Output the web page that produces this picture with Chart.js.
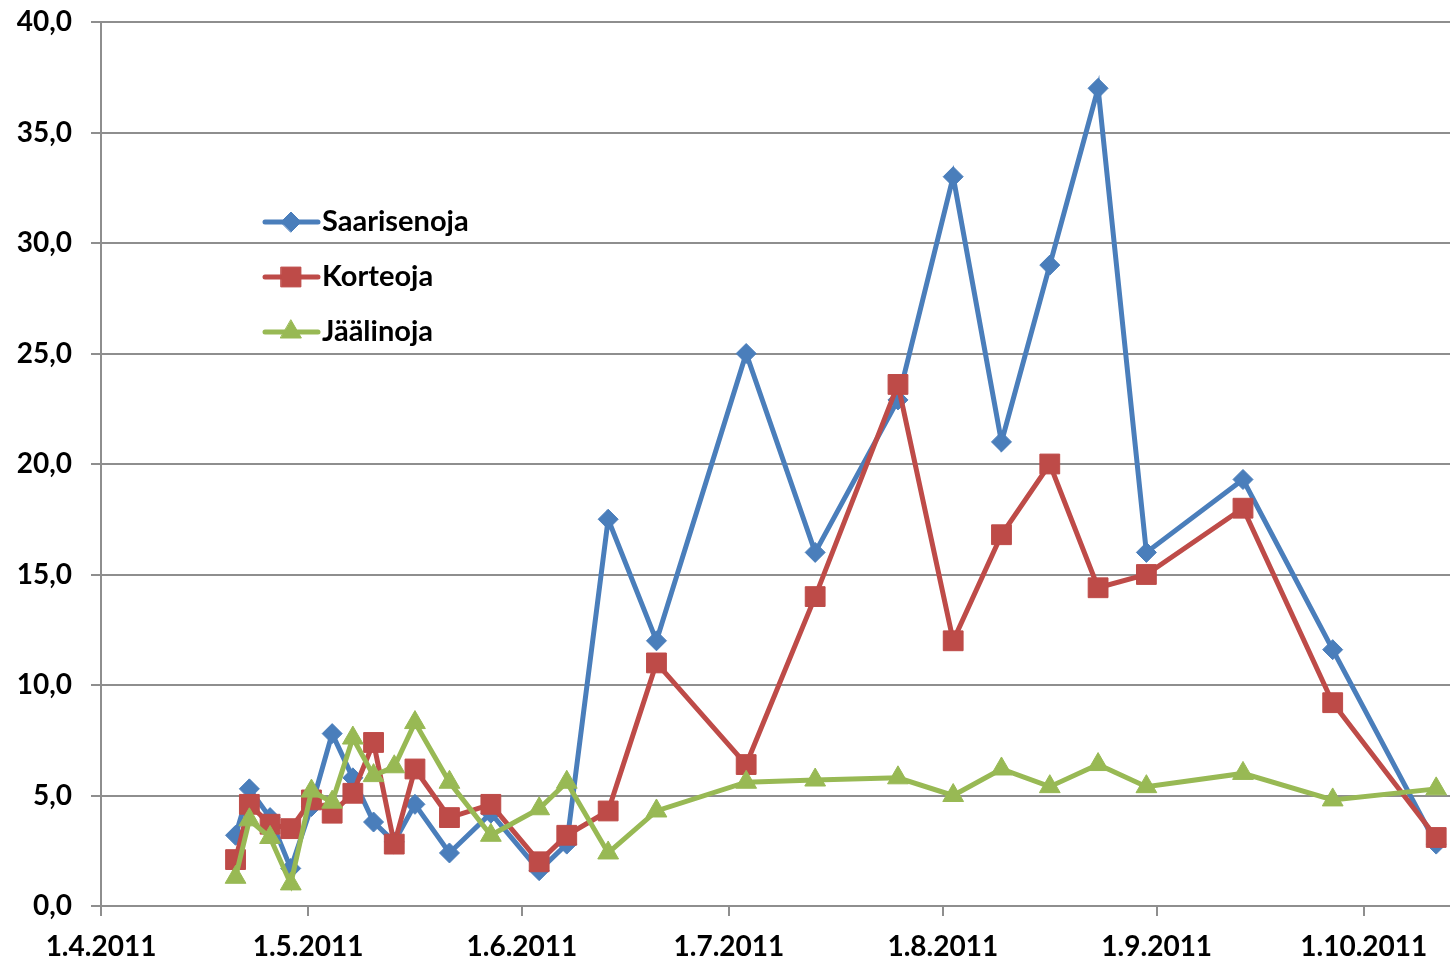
<!DOCTYPE html>
<html>
<head>
<meta charset="utf-8">
<script src="https://cdn.jsdelivr.net/npm/chart.js@4/dist/chart.umd.min.js"></script>
<style>
  html, body { margin: 0; padding: 0; background: #fff; }
  #wrap { width: 1450px; height: 961px; }
</style>
</head>
<body>
<div id="wrap"><canvas id="chart" width="1450" height="961"></canvas></div>
<script>
// sample dates (plotted in the middle of the day, like Excel)
const dates = [
  "2011-04-20", "2011-04-22", "2011-04-25", "2011-04-28", "2011-05-01", "2011-05-04",
  "2011-05-07", "2011-05-10", "2011-05-13", "2011-05-16", "2011-05-21", "2011-05-27",
  "2011-06-03", "2011-06-07", "2011-06-13", "2011-06-20", "2011-07-03", "2011-07-13",
  "2011-07-25", "2011-08-02", "2011-08-09", "2011-08-16", "2011-08-23", "2011-08-30",
  "2011-09-13", "2011-09-26", "2011-10-11"
];

const saarisenoja = [3.2, 5.3, 4.0, 1.7, 4.5, 7.8, 5.8, 3.8, 2.9, 4.6, 2.4, 4.2,
  1.6, 2.8, 17.5, 12.0, 25.0, 16.0, 22.9, 33.0, 21.0, 29.0, 37.0, 16.0, 19.3, 11.6, 2.8];
const korteoja = [2.1, 4.6, 3.7, 3.5, 4.8, 4.2, 5.1, 7.4, 2.8, 6.2, 4.0, 4.6,
  2.0, 3.2, 4.3, 11.0, 6.4, 14.0, 23.6, 12.0, 16.8, 20.0, 14.4, 15.0, 18.0, 9.2, 3.1];
const jaalinoja = [1.3, 3.9, 3.1, 1.0, 5.2, 4.7, 7.6, 5.9, 6.3, 8.3, 5.6, 3.2,
  4.4, 5.6, 2.4, 4.3, 5.6, 5.7, 5.8, 5.0, 6.2, 5.4, 6.4, 5.4, 6.0, 4.8, 5.3];

const tickDates = ["2011-04-01", "2011-05-01", "2011-06-01", "2011-07-01",
  "2011-08-01", "2011-09-01", "2011-10-01"];
const axisStart = "2011-04-01";
const axisEnd = "2011-10-13";

// day number from axis start
function dayNo(s) {
  const p = s.split("-").map(Number);
  const q = axisStart.split("-").map(Number);
  return (Date.UTC(p[0], p[1] - 1, p[2]) - Date.UTC(q[0], q[1] - 1, q[2])) / 86400000;
}
function fmtDate(d) {
  const p = d.split("-").map(Number);
  return p[2] + "." + p[1] + "." + p[0];
}
function pts(vals) {
  return vals.map((v, i) => ({ x: dayNo(dates[i]) + 0.5, y: v }));
}

const FONT = "Lato, 'Open Sans', sans-serif";
const GRID = "#8e8e8e";

const series = [
  { label: "Saarisenoja", vals: saarisenoja, color: "#4a7ebb", style: "rectRot", r: 10, order: 3 },
  { label: "Korteoja", vals: korteoja, color: "#be4b48", style: "rect", r: 14, order: 2 },
  { label: "Jäälinoja", vals: jaalinoja, color: "#98b954", style: "triangle", r: 12, order: 1 }
];

// legend drawn inside the plot, like the original
const innerLegend = {
  id: "innerLegend",
  afterDraw(c) {
    const ctx = c.ctx;
    const a = c.chartArea;
    c.data.datasets.forEach((ds, i) => {
      const y = a.top + 200 + i * 55;
      const x0 = a.left + 164;
      ctx.save();
      ctx.strokeStyle = ds.borderColor;
      ctx.lineWidth = 5;
      ctx.lineCap = "round";
      ctx.beginPath();
      ctx.moveTo(x0, y);
      ctx.lineTo(x0 + 53, y);
      ctx.stroke();
      ctx.fillStyle = ds.borderColor;
      ctx.strokeStyle = ds.borderColor;
      ctx.lineWidth = 1;
      Chart.helpers.drawPoint(ctx, { pointStyle: ds.pointStyle, radius: ds.pointRadius, rotation: 0, borderWidth: 1 }, x0 + 26, y);
      ctx.fillStyle = "#000";
      ctx.font = "bold 29px " + FONT;
      ctx.textBaseline = "middle";
      ctx.textAlign = "left";
      ctx.fillText(ds.label, x0 + 57, y);
      ctx.restore();
    });
  }
};

new Chart(document.getElementById("chart"), {
  type: "line",
  data: {
    datasets: series.map(s => ({
      label: s.label,
      data: pts(s.vals),
      borderColor: s.color,
      backgroundColor: s.color,
      borderWidth: 5,
      pointStyle: s.style,
      pointRadius: s.r,
      pointHoverRadius: s.r,
      pointBackgroundColor: s.color,
      pointBorderColor: s.color,
      pointBorderWidth: 1,
      tension: 0,
      order: s.order,
      clip: false
    }))
  },
  options: {
    responsive: false,
    animation: false,
    events: [],
    layout: { autoPadding: false, padding: { top: 22, right: 0, left: 0, bottom: 0 } },
    plugins: { legend: { display: false }, tooltip: { enabled: false } },
    scales: {
      x: {
        type: "linear",
        min: 0,
        max: dayNo(axisEnd) + 0.5,
        afterBuildTicks: ax => { ax.ticks = tickDates.map(d => ({ value: dayNo(d) })); },
        afterFit: ax => { ax.height = 55; ax.paddingLeft = 0; ax.paddingRight = 0; },
        ticks: {
          autoSkip: false,
          maxRotation: 0,
          padding: 14,
          color: "#000",
          font: { family: FONT, size: 28, weight: "bold" },
          callback: v => fmtDate(tickDates.find(d => dayNo(d) === v) || axisStart)
        },
        grid: { display: true, drawOnChartArea: false, drawTicks: true, tickLength: 10, color: GRID, lineWidth: 2 },
        border: { color: GRID, width: 2 }
      },
      y: {
        min: 0,
        max: 40,
        afterFit: ax => { ax.width = 101; ax.paddingTop = 0; ax.paddingBottom = 0; },
        ticks: {
          stepSize: 5,
          padding: 19,
          color: "#000",
          font: { family: FONT, size: 28, weight: "bold" },
          callback: v => v.toFixed(1).replace(".", ",")
        },
        grid: { color: GRID, lineWidth: 2, tickLength: 10 },
        border: { color: GRID, width: 2 }
      }
    }
  },
  plugins: [innerLegend]
});
</script>
</body>
</html>
